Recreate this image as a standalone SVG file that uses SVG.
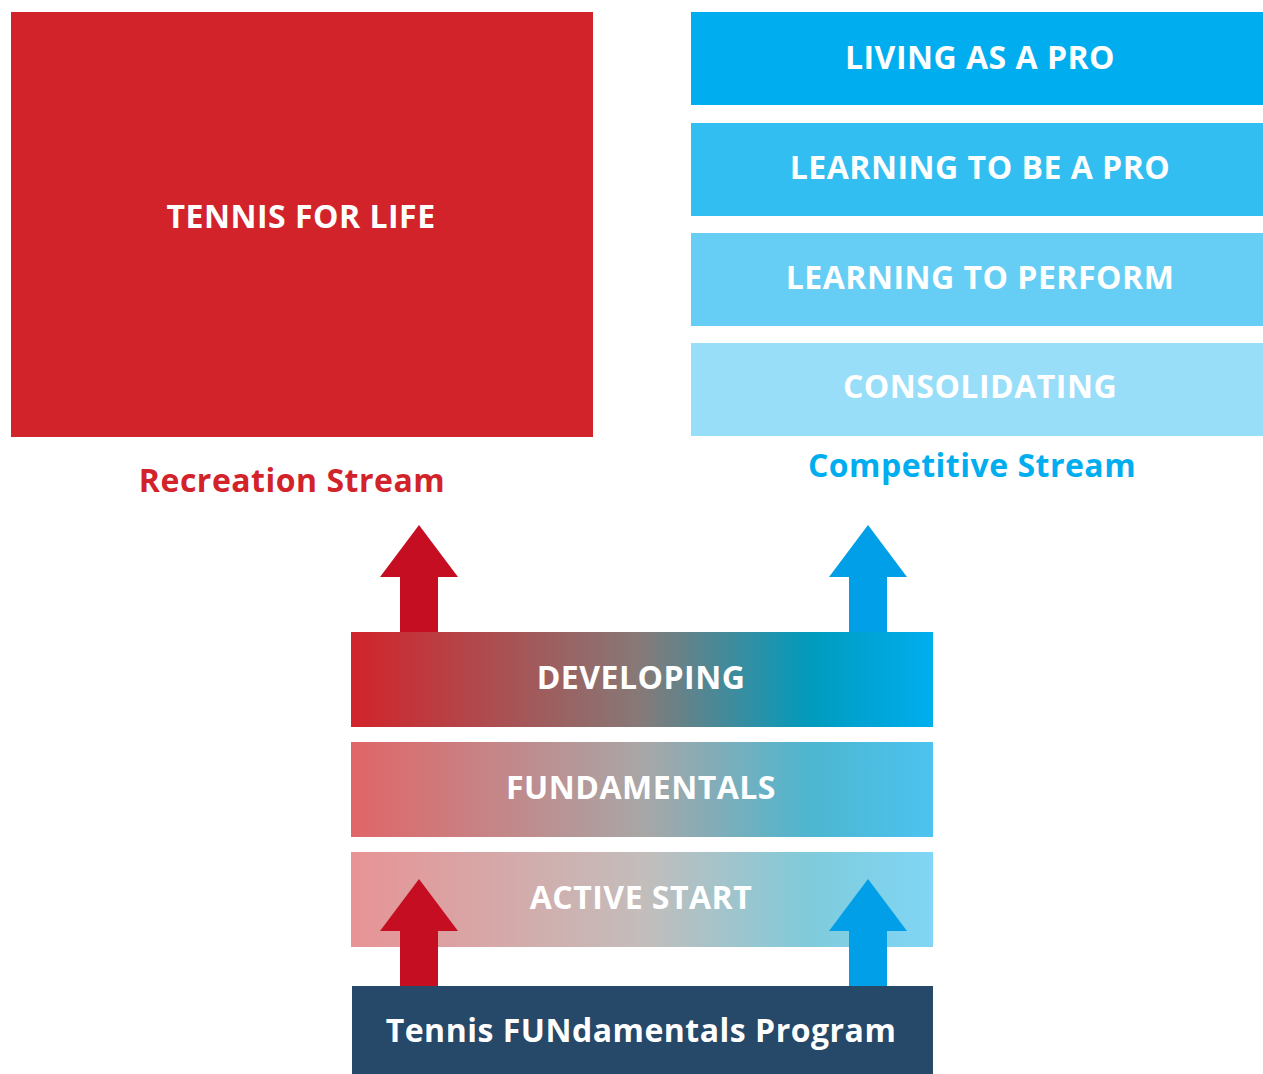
<svg xmlns="http://www.w3.org/2000/svg" width="1263" height="1074" viewBox="0 0 1263 1074">
<defs>
<style>
.t{font-family:"Open Sans","Liberation Sans",sans-serif;font-weight:bold;font-size:32px;letter-spacing:0.5px;fill:#fff;text-anchor:middle}
.s{font-family:"Open Sans","Liberation Sans",sans-serif;font-weight:bold;font-size:32px;letter-spacing:0.5px;text-anchor:middle}
.red{fill:#c50e22}
.blue{fill:#009fe8}
</style>
<linearGradient id="g1" x1="0" y1="0" x2="1" y2="0">
<stop offset="0" stop-color="#d2232a"/>
<stop offset="0.5" stop-color="#857a78"/>
<stop offset="0.79" stop-color="#009bbd"/>
<stop offset="1" stop-color="#00aeef"/>
</linearGradient>
<linearGradient id="g2" x1="0" y1="0" x2="1" y2="0">
<stop offset="0" stop-color="#e06568"/>
<stop offset="0.5" stop-color="#a9a6a6"/>
<stop offset="0.79" stop-color="#4db6d0"/>
<stop offset="1" stop-color="#4cc3f0"/>
</linearGradient>
<linearGradient id="g3" x1="0" y1="0" x2="1" y2="0">
<stop offset="0" stop-color="#e89395"/>
<stop offset="0.5" stop-color="#c3bdbb"/>
<stop offset="0.79" stop-color="#7fcbdb"/>
<stop offset="1" stop-color="#80d6f5"/>
</linearGradient>
</defs>
<rect width="1263" height="1074" fill="#fff"/>

<g id="tennis-for-life">
<rect x="11" y="12" width="582" height="425" fill="#d2232a"/>
<text class="t" x="301" y="228">TENNIS FOR LIFE</text>
</g>
<g id="living-as-a-pro">
<rect x="691" y="12" width="572" height="93" fill="#00aeef"/>
<text class="t" x="980" y="69">LIVING AS A PRO</text>
</g>
<g id="learning-to-be-a-pro">
<rect x="691" y="123" width="572" height="93" fill="#33bef2"/>
<text class="t" x="980" y="179">LEARNING TO BE A PRO</text>
</g>
<g id="learning-to-perform">
<rect x="691" y="233" width="572" height="93" fill="#66cef5"/>
<text class="t" x="980" y="289">LEARNING TO PERFORM</text>
</g>
<g id="consolidating">
<rect x="691" y="343" width="572" height="93" fill="#99def9"/>
<text class="t" x="980" y="398">CONSOLIDATING</text>
</g>
<g id="recreation-stream">
<text class="s" x="292" y="492" fill="#d2232a">Recreation Stream</text>
</g>
<g id="competitive-stream">
<text class="s" x="972" y="477" fill="#00aeef">Competitive Stream</text>
</g>

<g id="connectors">
<polygon class="red" points="419,525 458,577 438,577 438,633 400,633 400,577 380,577"/>
<polygon class="blue" points="868,525 907,577 887,577 887,633 849,633 849,577 829,577"/>
</g>

<g id="developing">
<rect x="351" y="632" width="582" height="95" fill="url(#g1)"/>
<text class="t" x="641" y="689">DEVELOPING</text>
</g>
<g id="fundamentals">
<rect x="351" y="742" width="582" height="95" fill="url(#g2)"/>
<text class="t" x="641" y="799">FUNDAMENTALS</text>
</g>
<g id="active-start">
<rect x="351" y="852" width="582" height="95" fill="url(#g3)"/>
<text class="t" x="641" y="909">ACTIVE START</text>
</g>

<g id="connectors-lower">
<polygon class="red" points="419,879 458,931 438,931 438,987 400,987 400,931 380,931"/>
<polygon class="blue" points="868,879 907,931 887,931 887,987 849,987 849,931 829,931"/>
</g>

<g id="tennis-fundamentals-program">
<rect x="352" y="986" width="581" height="88" fill="#264869"/>
<text class="t" x="641" y="1042">Tennis FUNdamentals Program</text>
</g>
</svg>
